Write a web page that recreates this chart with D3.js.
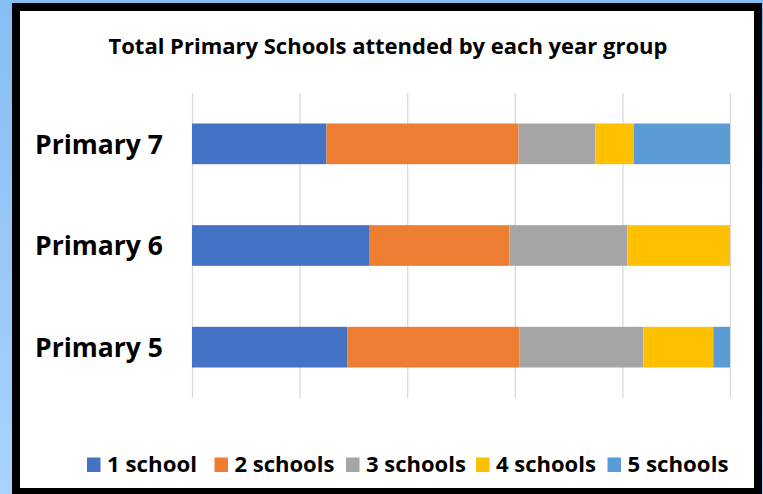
<!DOCTYPE html>
<html><head><meta charset="utf-8">
<script src="https://cdn.jsdelivr.net/npm/d3@7"></script>
<style>
html,body{margin:0;padding:0;width:763px;height:494px;overflow:hidden;}
</style>
</head><body>
<svg id="chart" width="763" height="494"></svg>
<script>
const categories = ["Primary 7", "Primary 6", "Primary 5"];
const seriesNames = ["1 school", "2 schools", "3 schools", "4 schools", "5 schools"];
const seriesColors = ["#4472C4", "#ED7D31", "#A5A5A5", "#FFC000", "#5B9BD5"];
// percent of pupils per year group
const oneSchool   = [25.0, 32.9, 28.9];
const twoSchools  = [35.7, 26.1, 32.0];
const threeSchools= [14.3, 21.9, 23.0];
const fourSchools = [7.1, 19.1, 13.0];
const fiveSchools = [17.9, 0.0, 3.1];
const xTicks = [0, 0.2, 0.4, 0.6, 0.8, 1.0];
const title = "Total Primary Schools attended by each year group";

const seriesValues = [oneSchool, twoSchools, threeSchools, fourSchools, fiveSchools];
const table = categories.map((c, i) => {
  const row = {category: c};
  seriesNames.forEach((s, j) => row[s] = seriesValues[j][i]);
  return row;
});

const svg = d3.select("#chart");
const defs = svg.append("defs");
const grad = defs.append("linearGradient").attr("id","bg").attr("x1",0).attr("y1",0).attr("x2",0).attr("y2",1);
grad.append("stop").attr("offset","0%").attr("stop-color","#86bdf3");
grad.append("stop").attr("offset","100%").attr("stop-color","#a9d3fb");
svg.append("rect").attr("width",763).attr("height",494).attr("fill","url(#bg)");

// chart frame
svg.append("rect").attr("x",16).attr("y",7).attr("width",742).attr("height",485)
  .attr("fill","#ffffff").attr("stroke","#000").attr("stroke-width",8);

const fontFam = "'Open Sans', Lato, sans-serif";

function fit(sel, w){
  sel.each(function(){
    const n = this; const nat = n.getComputedTextLength();
    if (Math.abs(nat - w) > 1) d3.select(n).attr("textLength", w).attr("lengthAdjust","spacingAndGlyphs");
  });
}

const tt = svg.append("text").attr("x",388).attr("y",54).attr("text-anchor","middle")
  .attr("font-family",fontFam).attr("font-weight","bold").attr("font-size",22)
  .attr("fill","#000").text(title);
fit(tt, 560);

const plot = {left:192, right:730, top:93, bottom:398};
const x = d3.scaleLinear().domain([0,1]).range([plot.left, plot.right]);
const y = d3.scaleBand().domain(categories).range([plot.top, plot.bottom]).paddingInner(0.6).paddingOuter(0.3);

// gridlines via axis
const grid = svg.append("g").attr("transform",`translate(0,${plot.bottom})`)
  .call(d3.axisBottom(x).tickValues(xTicks).tickSize(-(plot.bottom-plot.top)).tickFormat(""));
grid.select(".domain").remove();
grid.selectAll(".tick line").attr("stroke","#D9D9D9").attr("stroke-width",1.3);

const stack = d3.stack().keys(seriesNames).offset(d3.stackOffsetExpand);
const layers = stack(table);

svg.append("g").selectAll("g").data(layers).join("g")
  .attr("fill",(d,i)=>seriesColors[i])
  .selectAll("rect").data(d=>d).join("rect")
  .attr("x",d=>x(d[0])).attr("width",d=>Math.max(0,x(d[1])-x(d[0])))
  .attr("y",d=>y(d.data.category)).attr("height",y.bandwidth());

// category labels
const yAxis = svg.append("g").attr("transform",`translate(${plot.left},0)`)
  .call(d3.axisLeft(y).tickSize(0).tickPadding(29));
yAxis.select(".domain").remove();
yAxis.selectAll("text").attr("font-family",fontFam).attr("font-weight","bold")
  .attr("font-size",27).attr("fill","#000").attr("dy","0.36em");
fit(yAxis.selectAll("text"), 128);

// legend
const legendX = [87, 214.5, 346, 476, 607.5];
const legendW = [90, 99, 99, 100, 101];
const legend = svg.append("g").attr("transform","translate(0,472)");
seriesNames.forEach((s,i)=>{
  legend.append("rect").attr("x",legendX[i]).attr("y",-14.5).attr("width",13.5).attr("height",14.5).attr("fill",seriesColors[i]);
  const t = legend.append("text").attr("x",legendX[i]+20).attr("y",0)
    .attr("font-family",fontFam).attr("font-weight","bold").attr("font-size",22).attr("fill","#000").text(s);
  fit(t, legendW[i]);
});
</script>
</body></html>
